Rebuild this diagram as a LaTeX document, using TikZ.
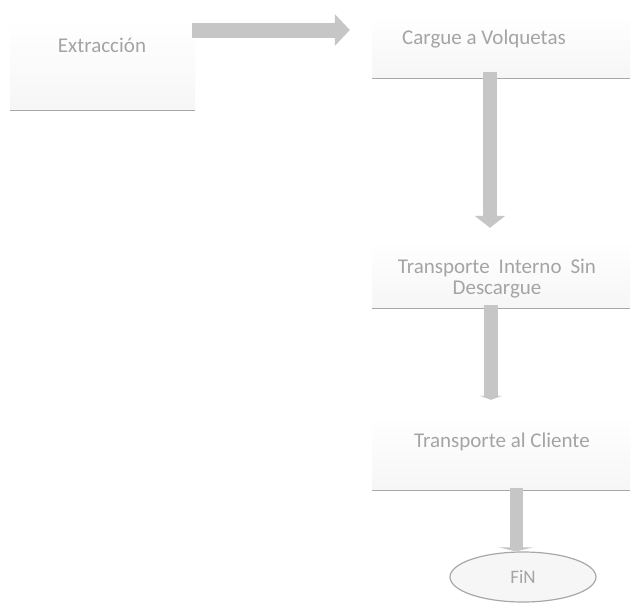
\documentclass[tikz,border=0pt]{standalone}
\usepackage{fontspec}
\setmainfont{Carlito}
\usetikzlibrary{arrows.meta,calc,shapes.geometric}
\definecolor{txt}{HTML}{A4A4A4}
\definecolor{boxfill}{HTML}{F6F6F6}
\definecolor{rule}{HTML}{A8A8A8}
\definecolor{arr}{HTML}{C6C6C6}
\begin{document}
\begin{tikzpicture}[x=1pt,y=-1pt,
  lbl/.style={text=txt,font=\fontsize{21}{25}\selectfont,inner sep=0pt,align=center},
  panel/.style={top color=white,bottom color=boxfill,draw=none,inner sep=0pt},
  bottomrule/.style={draw=rule,line width=1.2pt},
]
\useasboundingbox[fill=white] (0,0) rectangle (633,605);
% panels
\node[panel,minimum width=185pt,minimum height=90pt] (extrbox) at (102.5,65) {};
\node[panel,minimum width=258pt,minimum height=63pt] (carbox) at (501,46.5) {};
\node[panel,minimum width=258pt,minimum height=68pt] (tisbox) at (501,274) {};
\node[panel,minimum width=258pt,minimum height=75pt] (tacbox) at (501,452.5) {};
\draw[bottomrule] (extrbox.south west) -- (extrbox.south east);
\draw[bottomrule] (carbox.south west) -- (carbox.south east);
\draw[bottomrule] (tisbox.south west) -- (tisbox.south east);
\draw[bottomrule] (tacbox.south west) -- (tacbox.south east);
% labels
\node[lbl] (extr) at (102,45) {Extracción};
\node[lbl] (car) at (484,39) {Cargue a Volquetas};
\node[lbl] (tis1) at (497,268) {Transporte\hspace{9pt}Interno\hspace{9pt}Sin};
\node[lbl] (tis2) at (497,290) {Descargue};
\node[lbl] (tac) at (502,442) {Transporte al Cliente};
\node[ellipse,draw=rule,line width=1.2pt,fill=boxfill,minimum width=146pt,minimum height=50pt,inner sep=0pt] (fin) at (523,577) {};
\node[lbl,font=\fontsize{19}{22}\selectfont] (fintxt) at (fin.center) {FiN};
% arrows
\draw[arr,line width=15pt,-{Triangle[width=31pt,length=15pt]}] ($(extrbox.east)+(-3,-35)$) -- ($(carbox.west)+(-22,-16.5)$);
\draw[arr,line width=14pt,-{Triangle[width=30pt,length=12pt]}] ($(carbox.south)+(-11,-6)$) -- ($(tisbox.north)+(-11,-12)$);
\draw[arr,line width=14pt,-{Triangle[width=22pt,length=4pt]}] ($(tisbox.south)+(-10,-3)$) -- ($(tacbox.north)+(-10,-15)$);
\draw[arr,line width=13pt,-{Triangle[width=34pt,length=4pt]}] ($(tacbox.south)+(15,-2)$) -- (fin.north -| {$(tacbox.south)+(15,0)$});
\end{tikzpicture}
\end{document}
